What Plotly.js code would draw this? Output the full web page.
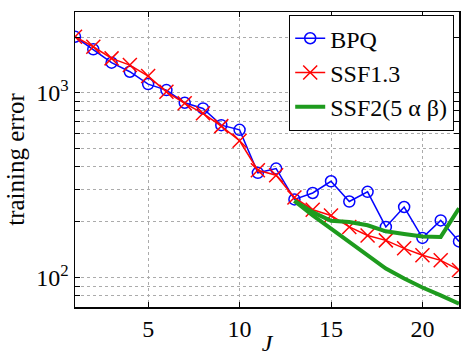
<!DOCTYPE html>
<html><head><meta charset="utf-8">
<script src="https://cdn.plot.ly/plotly-3.0.1.min.js"></script>
<style>html,body{margin:0;padding:0;background:#fff}#c{width:464px;height:356px}#d{position:fixed;left:0;top:0;width:464px;height:356px;pointer-events:none;background:rgba(255,255,255,0.02);font:10px monospace;color:rgba(255,255,255,0.6);white-space:pre-wrap}</style>
</head><body><div id="c"></div><div id="d"></div>
<script>
const errs = [];
window.addEventListener('error', e => errs.push(String(e.message)));
const J = [1,2,3,4,5,6,7,8,9,10,11,12,13,14,15,16,17,18,19,20,21,22];
const bpq = [2010,1718,1455,1300,1114,1034,883,823,668,630,369,389,265,287,332,258,291,188,241,164,204,157];
const ssf13 = [2010,1774,1535,1412,1231,1012,877,774,660,550,381,358,271,233,217,188,169,159,144,132,124,110];
const Jg = [13,14,15,16,17,18,19,20,21,22];
const ssf2a = [260,226,203,200,192,178,172,167,166,237];
const ssf2b = [260,217,184,156,132,112,98.8,88.4,80.2,72.3];
const yTickVals = [70,80,90,100,200,300,400,500,600,700,800,900,1000,2000];
const yTickText = ['','','','10<sup>2</sup>','','','','','','','','','10<sup>3</sup>',''];
const xTickVals = [5,10,15,20];

const FF = 'Liberation Serif';
function f(size){ return {family:FF, size:size, color:'#000'}; }
const traces = [
  {x:J, y:bpq, name:'BPQ', mode:'lines+markers', line:{color:'#0000ff', width:1.5},
   marker:{symbol:'circle-open', size:11, color:'#0000ff', line:{width:1.5, color:'#0000ff'}}},
  {x:J, y:ssf13, name:'SSF1.3', mode:'lines+markers', line:{color:'#ff0000', width:1.5},
   marker:{symbol:'x-thin-open', size:14, color:'#ff0000', line:{width:1.5, color:'#ff0000'}}},
  {x:Jg, y:ssf2a, name:'SSF2(5 α β)', mode:'lines', line:{color:'#1a9a1a', width:4}},
  {x:Jg, y:ssf2b, name:'SSF2b', mode:'lines', showlegend:false, line:{color:'#1a9a1a', width:4}}
];
const layout = {
  width:464, height:356, margin:{l:75, r:5, t:12, b:49},
  paper_bgcolor:'#fff', plot_bgcolor:'#fff', font:f(24),
  showlegend:true,
  legend:{x:0.987, y:0.99, xanchor:'right', yanchor:'top', bgcolor:'#fff', bordercolor:'#000', borderwidth:1.2,
    font:f(24), tracegroupgap:0},
  xaxis:{range:[1,22], tickvals:xTickVals, ticks:'inside', ticklen:5, tickcolor:'#000',
    showline:true, linecolor:'#000', linewidth:1.5, mirror:'ticks', zeroline:false,
    showgrid:true, gridcolor:'#aaa', griddash:'dot', gridwidth:1,
    tickfont:f(24),
    title:{text:'<i>J</i>', font:f(24), standoff:0}},
  yaxis:{type:'log', range:[1.841,3.437], tickvals:yTickVals, ticktext:yTickText, ticks:'inside', ticklen:5, tickcolor:'#000',
    showline:true, linecolor:'#000', linewidth:1.5, mirror:'ticks', zeroline:false,
    showgrid:true, gridcolor:'#aaa', griddash:'dot', gridwidth:1,
    tickfont:f(24),
    title:{text:'training error', font:f(25), standoff:4}}
};
function draw(){
  return Plotly.newPlot('c', traces, layout, {displayModeBar:false, staticPlot:true}).then(gd => {
    const t = document.querySelector('.xtick text');
    const lt = document.querySelector('.legendtext');
    const s = (t ? t.getAttribute('style') : '') + (lt ? lt.getAttribute('style') : '') + errs.join('|');
    const d = document.getElementById('d');
    d.setAttribute('data-s', s);
    d.textContent = '.';
  });
}
const fl = (document.fonts && document.fonts.load) ?
  Promise.all([document.fonts.load('24px "Liberation Serif"'), document.fonts.load('italic 24px "Liberation Serif"')]).catch(()=>{}) :
  Promise.resolve();
fl.then(draw, draw);
</script></body></html>
